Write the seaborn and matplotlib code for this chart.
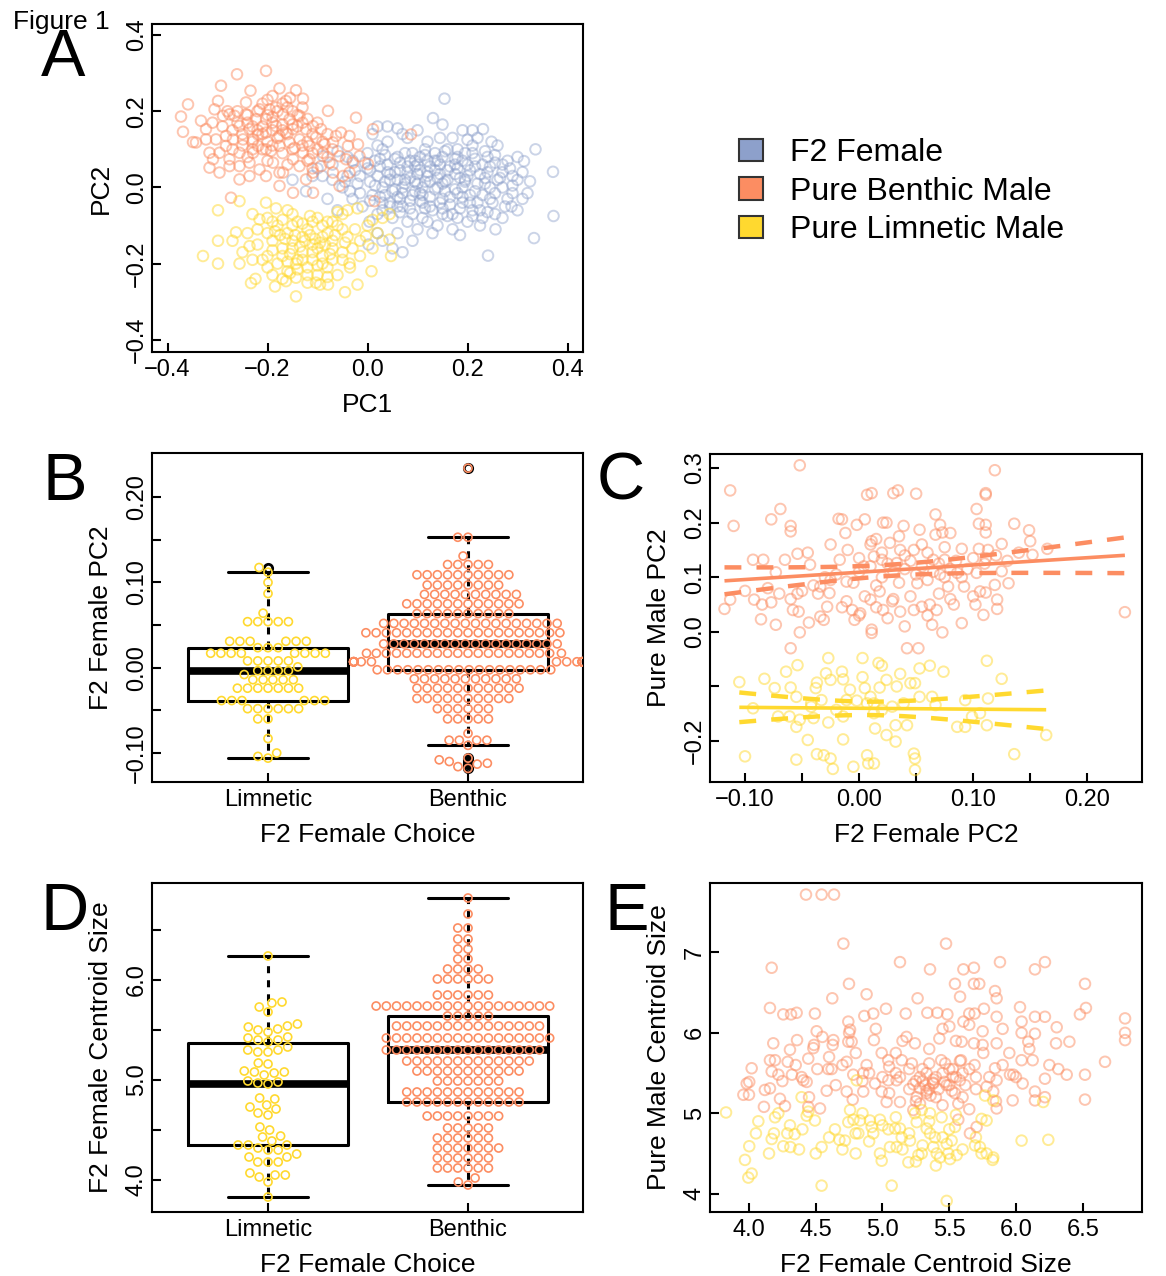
import numpy as np
import pandas as pd
import seaborn as sns
import matplotlib.pyplot as plt
from matplotlib.colors import to_rgba
from matplotlib.patches import Patch

# colours (Set2)
col_fem = '#8DA0CB'
col_ben = '#FC8D62'
col_lim = '#FFD92F'

legend_labels = ['F2 Female', 'Pure Benthic Male', 'Pure Limnetic Male']
choice_order = ['Limnetic', 'Benthic']

# ---------------- panel A : PCA of shape (PC1, PC2) ----------------
a_fem = [(0.154,0.233),(0.371,0.041),(0.372,-0.075),(0.333,-0.133),(0.241,-0.179),(0.336,0.100),
         (0.313,0.069),(0.310,0.040),(0.325,0.016),(0.320,-0.015),(0.288,-0.050),(0.255,-0.070),
         (0.256,-0.110),(0.070,-0.170),(0.050,-0.160),(0.131,0.182),(0.150,0.165),(0.231,0.153),
         (0.210,0.150),(0.190,0.150),(0.248,0.120),(0.060,0.155),(0.040,0.160),(-0.089,0.082),
         (-0.123,-0.010),(-0.080,-0.030),(-0.150,0.020),(-0.060,0.095),(0.004,-0.090),(0.020,-0.120),
         (0.002,-0.150),(0.030,-0.140),(0.00,0.05),(0.02,0.03),(0.04,0.06),(0.06,0.02),(0.08,0.04),
         (0.10,0.01),(0.12,0.03),(0.14,0.00),(0.16,0.02),(0.18,0.05),(0.20,0.03),(0.22,0.01),
         (0.24,0.04),(0.26,0.02),(0.01,-0.02),(0.03,-0.04),(0.05,-0.01),(0.07,-0.05),(0.09,-0.02),
         (0.11,-0.04),(0.13,-0.06),(0.15,-0.03),(0.17,-0.07),(0.19,-0.04),(0.21,-0.06),(0.23,-0.02),
         (0.25,-0.04),(0.27,0.00),(-0.02,0.01),(-0.04,0.03),(-0.03,-0.03),(-0.05,0.00),(-0.07,0.02),
         (0.00,0.09),(0.03,0.10),(0.06,0.08),(0.09,0.09),(0.12,0.07),(0.15,0.08),(0.18,0.10),
         (0.21,0.09),(0.24,0.08),(0.27,0.06),(0.29,0.03),(0.28,-0.03),(0.02,-0.07),(0.05,-0.08),
         (0.08,-0.09),(0.11,-0.08),(0.14,-0.10),(0.17,-0.11),(0.20,-0.09),(0.23,-0.08),(0.10,-0.11),
         (0.13,-0.12),(0.185,-0.125),(0.04,0.12),(0.08,0.13),(0.12,0.12),(0.17,0.13),(0.20,0.125),
         (0.22,0.13),(0.26,0.11),(0.03,0.00),(0.07,0.00),(0.11,0.00),(0.15,0.01),(0.19,0.00),
         (0.23,0.06),(0.055,0.04),(0.095,0.055),(0.135,0.045),(0.175,0.035),(0.085,-0.035),
         (0.125,-0.025),(0.165,-0.045),(0.205,-0.02),(0.045,-0.05),(-0.01,-0.05),(-0.03,0.07),
         (-0.06,-0.06),(-0.09,0.03),(0.30,0.08),(0.30,-0.06),(0.06,-0.12),(0.09,-0.14),(0.115,0.10),
         (0.095,0.015),(0.145,0.06),(0.065,0.065),(0.025,0.075),(0.10,0.035),(0.14,0.025),
         (0.18,-0.015),(0.06,-0.025),(0.16,0.10),(0.19,0.07),(0.22,-0.04),(0.245,0.00),(0.27,0.04),
         (0.215,0.055),(0.075,0.02),(0.105,-0.015),(0.125,0.015),(0.155,-0.01),(0.085,0.07),
         (0.045,0.02),(0.115,-0.055),(0.16,-0.075),(0.195,0.015),(0.235,0.025),(0.02,0.11),
         (-0.015,0.03),(0.035,-0.02),(0.065,-0.065),(0.105,0.08),(0.135,0.09),(0.175,0.075),
         (0.21,0.11),(0.255,0.065),(0.29,0.005),(0.27,-0.08),(0.225,-0.10),(0.145,0.13),(0.005,0.015),
         (-0.10,0.05),(-0.11,0.03),(-0.07,0.06),(-0.04,0.08),(0.01,0.14),(0.02,0.16),(0.07,0.14),(0.10,0.15),
         (0.005,0.045),(0.025,0.055),(0.045,0.035),(0.065,0.045),(0.085,0.025),(0.105,0.045),(0.125,0.055),
         (0.145,0.035),(0.165,0.055),(0.185,0.025),(0.205,0.045),(0.225,0.035),(0.245,0.055),(0.265,0.025),
         (0.015,0.005),(0.035,0.015),(0.055,-0.005),(0.075,0.010),(0.095,-0.010),(0.115,0.015),(0.135,-0.005),
         (0.155,0.015),(0.175,-0.005),(0.195,0.020),(0.215,-0.010),(0.235,0.010),(0.255,-0.015),
         (0.005,-0.035),(0.025,-0.025),(0.045,-0.040),(0.065,-0.030),(0.085,-0.055),(0.105,-0.035),
         (0.125,-0.050),(0.145,-0.040),(0.165,-0.025),(0.185,-0.055),(0.205,-0.040),(0.225,-0.060),
         (0.245,-0.030),(0.015,0.070),(0.035,0.085),(0.055,0.075),(0.075,0.090),(0.095,0.070),
         (0.115,0.085),(0.135,0.070),(0.155,0.095),(0.175,0.060),(0.195,0.090),(0.215,0.075),
         (0.235,0.095),(0.255,0.085),(0.03,-0.06),(0.06,-0.05),(0.09,-0.07),(0.12,-0.09),(0.15,-0.07),
         (0.18,-0.08),(0.21,-0.075),(0.24,-0.065),(-0.005,0.065),(-0.025,0.045),(-0.045,0.015),
         (-0.015,-0.015),(-0.035,-0.01),(0.28,0.07),(0.285,0.05),(0.30,0.02),(0.31,-0.03),(0.29,-0.015),
         (0.275,-0.05),(0.04,0.04),(0.08,0.055),(0.12,0.04),(0.16,0.045),(0.20,0.06),(0.07,-0.015),
         (0.11,-0.02),(0.15,-0.055),(0.19,-0.025),(0.10,0.06),(0.14,0.07),(0.18,0.08)]

a_ben = [(-0.373,0.186),(-0.359,0.218),(-0.369,0.146),(-0.349,0.119),(-0.333,0.175),(-0.323,0.153),
         (-0.316,0.091),(-0.309,0.074),(-0.316,0.052),(-0.296,0.039),(-0.306,0.205),(-0.299,0.227),
         (-0.293,0.267),(-0.261,0.297),(-0.203,0.306),(-0.234,0.254),(-0.176,0.260),(-0.143,0.255),
         (-0.129,0.233),(-0.163,0.227),(-0.183,0.210),(-0.216,0.205),(-0.243,0.223),(-0.276,0.192),
         (-0.266,0.188),(-0.289,0.188),(-0.256,0.161),(-0.236,0.153),(-0.219,0.139),(-0.203,0.179),
         (-0.183,0.161),(-0.156,0.179),(-0.136,0.188),(-0.123,0.153),(-0.109,0.161),(-0.093,0.153),
         (-0.079,0.201),(-0.023,0.183),(-0.053,0.144),(-0.036,0.135),(-0.039,0.109),(-0.019,0.113),
         (-0.056,0.082),(-0.076,0.065),(-0.093,0.056),(-0.036,0.039),(-0.069,0.039),(-0.049,0.030),
         (0.001,0.061),(0.011,0.153),(0.087,0.139),(0.014,-0.036),(-0.273,-0.027),(-0.276,0.056),
         (-0.256,0.021),(-0.236,0.030),(-0.216,0.047),(-0.189,0.065),(-0.169,0.039),(-0.149,0.074),
         (-0.129,0.091),(-0.116,0.109),(-0.256,0.091),(-0.229,0.091),(-0.203,0.100),(-0.176,0.109),
         (-0.156,0.118),(-0.136,0.126),(-0.283,0.109),(-0.303,0.126),(-0.323,0.126),(-0.343,0.118),
         (-0.283,0.135),(-0.269,0.126),(-0.249,0.126),(-0.223,0.179),(-0.196,0.205),(-0.169,0.192),
         (-0.149,0.153),(-0.163,0.144),(-0.176,0.135),(-0.203,0.144),(-0.229,0.126),(-0.243,0.192),
         (-0.276,0.074),(-0.296,0.091),(-0.136,0.056),(-0.116,0.074),(-0.109,0.039),(-0.089,0.091),
         (-0.069,0.118),(-0.063,0.135),(-0.043,0.074),(-0.056,0.004),(-0.109,-0.014),(-0.149,-0.014),
         (-0.176,0.004),(-0.203,0.030),(-0.176,0.039),(-0.123,0.021),(-0.236,0.065),(-0.256,0.056),
         (-0.219,0.109),(-0.193,0.096),(-0.146,0.104),(-0.103,0.131),(-0.086,0.113),(-0.029,0.065),
         (-0.016,0.082),(-0.21,0.16),(-0.19,0.17),(-0.17,0.165),(-0.20,0.12),(-0.18,0.13),(-0.16,0.14),
         (-0.14,0.16),(-0.22,0.15),(-0.24,0.17),(-0.19,0.185),(-0.15,0.20),(-0.17,0.22),(-0.13,0.21),
         (-0.20,0.23),(-0.12,0.12),(-0.10,0.10),(-0.08,0.08),(-0.11,0.05),(-0.26,0.20),(-0.23,0.10),
         (-0.27,0.15),(-0.25,0.14),(-0.23,0.16),(-0.21,0.14),(-0.19,0.15),(-0.17,0.15),(-0.15,0.165),
         (-0.13,0.17),(-0.11,0.14),(-0.26,0.17),(-0.24,0.19),(-0.22,0.20),(-0.20,0.19),(-0.18,0.20),
         (-0.16,0.21),(-0.14,0.19),(-0.12,0.18),(-0.25,0.11),(-0.23,0.12),(-0.21,0.10),(-0.19,0.11),
         (-0.17,0.09),(-0.15,0.10),(-0.13,0.11),(-0.11,0.09),(-0.09,0.12),(-0.27,0.10),(-0.29,0.16),
         (-0.31,0.17),(-0.21,0.22),(-0.19,0.24),(-0.155,0.235),(-0.24,0.08),(-0.20,0.07),(-0.16,0.06),
         (-0.12,0.07),(-0.08,0.14),(-0.07,0.10),(-0.10,0.17),(-0.28,0.20)]

a_lim = [(-0.329,-0.180),(-0.299,-0.060),(-0.299,-0.140),(-0.299,-0.200),(-0.256,-0.036),(-0.256,-0.200),
         (-0.263,-0.118),(-0.236,-0.154),(-0.233,-0.251),(-0.224,-0.240),(-0.200,-0.180),(-0.216,-0.084),
         (-0.203,-0.040),(-0.183,-0.055),(-0.160,-0.060),(-0.143,-0.200),(-0.143,-0.237),(-0.163,-0.246),
         (-0.143,-0.286),(-0.103,-0.250),(-0.079,-0.255),(-0.045,-0.275),(-0.020,-0.255),(0.008,-0.220),
         (-0.036,-0.200),(-0.003,-0.128),(0.010,-0.160),(0.047,-0.180),(0.044,-0.137),(0.044,-0.070),
         (-0.020,-0.055),(-0.040,-0.060),(-0.080,-0.090),(-0.20,-0.08),(-0.18,-0.10),(-0.16,-0.12),
         (-0.14,-0.09),(-0.12,-0.11),(-0.10,-0.08),(-0.08,-0.12),(-0.06,-0.10),(-0.04,-0.13),
         (-0.19,-0.14),(-0.17,-0.16),(-0.15,-0.14),(-0.13,-0.17),(-0.11,-0.15),(-0.09,-0.18),
         (-0.07,-0.16),(-0.05,-0.19),(-0.03,-0.16),(-0.18,-0.20),(-0.16,-0.22),(-0.14,-0.19),
         (-0.12,-0.21),(-0.10,-0.23),(-0.08,-0.21),(-0.06,-0.23),(-0.20,-0.12),(-0.22,-0.15),
         (-0.21,-0.19),(-0.19,-0.23),(-0.13,-0.13),(-0.11,-0.19),(-0.07,-0.14),(-0.05,-0.07),
         (-0.15,-0.07),(-0.17,-0.24),(-0.12,-0.25),(-0.09,-0.13),(-0.10,-0.16),(-0.135,-0.155),
         (-0.115,-0.125),(-0.095,-0.145),(-0.075,-0.175),(-0.155,-0.175),(-0.175,-0.125),(-0.025,-0.11),
         (-0.015,-0.18),(0.00,-0.10),(0.02,-0.12),(0.03,-0.08),(-0.24,-0.12),(-0.25,-0.17),
         (-0.23,-0.07),(-0.27,-0.14),(-0.19,-0.09),(-0.17,-0.085),(-0.15,-0.10),(-0.13,-0.095),
         (-0.11,-0.09),(-0.09,-0.10),(-0.07,-0.09),(-0.05,-0.11),(-0.185,-0.115),(-0.165,-0.135),
         (-0.145,-0.125),(-0.125,-0.14),(-0.105,-0.135),(-0.085,-0.15),(-0.065,-0.125),(-0.045,-0.145),
         (-0.19,-0.165),(-0.17,-0.18),(-0.15,-0.16),(-0.13,-0.19),(-0.11,-0.17),(-0.09,-0.20),
         (-0.07,-0.19),(-0.05,-0.17),(-0.16,-0.195),(-0.14,-0.215),(-0.12,-0.23),(-0.10,-0.205),
         (-0.08,-0.235),(-0.20,-0.21),(-0.22,-0.11),(-0.23,-0.19),(-0.035,-0.21),(-0.015,-0.14),
         (0.01,-0.085),(-0.06,-0.065),(-0.115,-0.075),(-0.155,-0.225),(-0.095,-0.255),(-0.185,-0.26)]

a_ticks = [-0.4, -0.2, 0.0, 0.2, 0.4]
a_ticklabels = ['\u22120.4', '\u22120.2', '0.0', '0.2', '0.4']

# ---------------- panel B : female PC2 by choice ----------------
b_lim = [0.1175, 0.112, 0.100, 0.087, 0.064,
         0.054, 0.054, 0.054, 0.054, 0.054,
         0.031, 0.031, 0.031, 0.031, 0.031, 0.031,
         0.0235, 0.0235, 0.0235,
         0.017, 0.017, 0.017, 0.017, 0.017, 0.017, 0.017, 0.017,
         0.008, 0.008, 0.008, 0.008, 0.008,
         0.001,
         -0.0035, -0.0035, -0.0035, -0.0035,
         -0.008,
         -0.014, -0.014, -0.014, -0.014, -0.014,
         -0.024, -0.024, -0.024, -0.024, -0.024, -0.024, -0.024,
         -0.0385, -0.0385, -0.0385, -0.0385, -0.0385, -0.0385,
         -0.048, -0.048, -0.048, -0.048, -0.048, -0.048,
         -0.060, -0.060,
         -0.083, -0.100, -0.104, -0.106]

b_ben = [0.234,
         0.153, 0.153,
         0.131,
         0.121, 0.121, 0.121, 0.121, 0.121,
         0.109, 0.109, 0.109, 0.109, 0.109, 0.109, 0.109, 0.109, 0.109, 0.109,
         0.097, 0.097, 0.097, 0.097, 0.097, 0.097, 0.097, 0.097,
         0.086, 0.086, 0.086, 0.086, 0.086, 0.086, 0.086, 0.086, 0.086, 0.086,
         0.075, 0.075, 0.075, 0.075, 0.075, 0.075, 0.075, 0.075, 0.075, 0.075, 0.075, 0.075,
         0.0635, 0.0635, 0.0635, 0.0635, 0.0635, 0.0635, 0.0635, 0.0635, 0.0635, 0.0635,
         0.052, 0.052, 0.052, 0.052, 0.052, 0.052, 0.052, 0.052, 0.052,
         0.052, 0.052, 0.052, 0.052, 0.052, 0.052, 0.052, 0.052, 0.052,
         0.041, 0.041, 0.041, 0.041, 0.041, 0.041, 0.041, 0.041, 0.041, 0.041,
         0.041, 0.041, 0.041, 0.041, 0.041, 0.041, 0.041, 0.041, 0.041, 0.041,
         0.028, 0.028, 0.028, 0.028, 0.028, 0.028, 0.028, 0.028, 0.028,
         0.028, 0.028, 0.028, 0.028, 0.028, 0.028, 0.028, 0.028, 0.028,
         0.017, 0.017, 0.017, 0.017, 0.017, 0.017, 0.017, 0.017, 0.017, 0.017,
         0.017, 0.017, 0.017, 0.017, 0.017, 0.017, 0.017, 0.017, 0.017, 0.017,
         0.007, 0.007, 0.007, 0.007, 0.007, 0.007, 0.007, 0.007, 0.007, 0.007,
         0.007, 0.007, 0.007, 0.007, 0.007, 0.007, 0.007, 0.007, 0.007, 0.007,
         -0.0024, -0.0024, -0.0024, -0.0024, -0.0024, -0.0024, -0.0024, -0.0024, -0.0024,
         -0.0024, -0.0024, -0.0024, -0.0024, -0.0024, -0.0024, -0.0024, -0.0024, -0.0024,
         -0.013, -0.013, -0.013, -0.013, -0.013, -0.013, -0.013, -0.013, -0.013, -0.013, -0.013,
         -0.024, -0.024, -0.024, -0.024, -0.024, -0.024, -0.024, -0.024, -0.024, -0.024, -0.024,
         -0.036, -0.036, -0.036, -0.036, -0.036, -0.036, -0.036, -0.036, -0.036, -0.036,
         -0.048, -0.048, -0.048, -0.048, -0.048, -0.048,
         -0.060, -0.060, -0.060, -0.060, -0.060,
         -0.077,
         -0.085, -0.085, -0.085, -0.085,
         -0.091,
         -0.106, -0.108, -0.110, -0.112, -0.113, -0.116, -0.118]

b_yticks = [-0.10, -0.05, 0.00, 0.05, 0.10, 0.15, 0.20]
b_yticklabels = ['\u22120.10', '', '0.00', '', '0.10', '', '0.20']

# ---------------- panel C : female PC2 vs male PC2 ----------------
c_ben = [(-0.113,0.259),(-0.110,0.194),(-0.118,0.042),(-0.113,0.059),(-0.093,0.132),(-0.084,0.132),
         (-0.092,0.059),(-0.085,0.050),(-0.077,0.054),(-0.086,0.023),(-0.073,0.013),(-0.073,0.109),
         (-0.077,0.206),(-0.069,0.225),(-0.052,0.305),(-0.060,0.194),(-0.060,0.184),(-0.065,0.132),
         (-0.054,0.143),(-0.054,0.070),(-0.058,0.040),(-0.053,0.037),(-0.052,-0.001),(-0.060,-0.030),
         (-0.044,0.017),(-0.043,0.123),(-0.036,0.070),(-0.034,0.028),(-0.031,0.022),(-0.028,0.046),
         (-0.026,0.071),(-0.034,0.083),(-0.025,0.095),(-0.018,0.207),(-0.015,0.206),(-0.012,0.181),
         (-0.017,0.132),(-0.011,0.092),(-0.011,0.056),(-0.006,0.040),(-0.004,0.022),(0.001,0.034),
         (-0.002,0.196),(0.005,0.206),(0.010,0.160),(0.011,0.166),(0.007,0.251),(0.011,0.254),
         (0.013,0.138),(0.004,0.120),(0.010,0.059),(0.011,0.004),(0.011,-0.002),(0.021,0.200),
         (0.024,0.200),(0.020,0.132),(0.018,0.074),(0.021,0.040),(0.027,0.163),(0.030,0.254),
         (0.034,0.259),(0.039,0.194),(0.036,0.150),(0.033,0.126),(0.036,0.037),(0.029,0.056),
         (0.042,-0.030),(0.052,-0.030),(0.050,0.253),(0.053,0.187),(0.048,0.150),(0.051,0.089),
         (0.048,0.040),(0.055,0.046),(0.062,0.050),(0.064,0.013),(0.068,0.040),(0.067,0.215),
         (0.071,0.196),(0.067,0.178),(0.073,0.182),(0.080,0.181),(0.065,0.132),(0.075,0.132),
         (0.071,0.105),(0.078,0.083),(0.073,-0.001),(0.083,0.050),(0.090,0.152),(0.090,0.016),
         (0.086,0.108),(0.092,0.083),(0.103,0.225),(0.105,0.198),(0.105,0.152),(0.111,0.254),
         (0.111,0.251),(0.111,0.196),(0.111,0.182),(0.113,0.150),(0.111,0.135),(0.103,0.108),
         (0.106,0.074),(0.111,0.072),(0.109,0.031),(0.102,0.050),(0.119,0.296),(0.125,0.161),
         (0.125,0.111),(0.119,0.086),(0.121,0.059),(0.121,0.042),(0.131,0.089),(0.136,0.198),
         (0.149,0.186),(0.150,0.166),(0.152,0.141),(0.165,0.152),(0.233,0.036),
         (0.000,0.110),(0.010,0.120),(0.020,0.100),(0.025,0.125),(0.030,0.110),(0.035,0.090),
         (0.040,0.115),(0.045,0.130),(0.050,0.105),(0.055,0.120),(0.060,0.095),(0.065,0.110),
         (0.070,0.125),(0.075,0.100),(0.080,0.115),(0.085,0.130),(0.090,0.100),(0.095,0.115),
         (-0.005,0.090),(0.015,0.085),(-0.020,0.105),(-0.030,0.100),(-0.040,0.085),(-0.050,0.075),
         (0.100,0.135),(0.110,0.125),(0.120,0.140),(0.130,0.130),(0.140,0.145),(0.020,0.145),
         (0.040,0.140),(0.060,0.145),(0.000,0.135),(-0.010,0.150),(0.030,0.060),(0.005,0.065),
         (-0.015,0.045),(0.025,0.025),(0.045,0.065),(0.070,0.070),(-0.070,0.070),(-0.080,0.080),
         (-0.100,0.075),(-0.060,0.060),(0.015,0.170),(0.035,0.175),(0.055,0.160),(0.075,0.155),
         (-0.025,0.160),(-0.045,0.145),(0.000,0.030),(0.040,0.010),(0.060,0.030),(0.080,0.060),
         (0.100,0.065),(0.015,0.045)]

c_lim = [(-0.105,-0.092),(-0.100,-0.228),(-0.083,-0.086),(-0.074,-0.103),(-0.093,-0.140),(-0.064,-0.073),
         (-0.060,-0.102),(-0.054,-0.061),(-0.055,-0.119),(-0.061,-0.155),(-0.055,-0.174),(-0.052,-0.161),
         (-0.055,-0.234),(-0.045,-0.198),(-0.042,-0.137),(-0.038,-0.103),(-0.037,-0.093),(-0.029,-0.076),
         (-0.027,-0.048),(-0.025,-0.088),(-0.033,-0.125),(-0.040,-0.158),(-0.027,-0.166),(-0.037,-0.224),
         (-0.031,-0.226),(-0.025,-0.232),(-0.023,-0.251),(-0.015,-0.073),(-0.014,-0.087),(-0.014,-0.197),
         (-0.011,-0.125),(-0.014,-0.155),(-0.005,-0.247),(-0.002,-0.126),(0.003,-0.048),(0.003,-0.083),
         (0.005,-0.103),(0.007,-0.226),(0.008,-0.241),(0.013,-0.241),(0.010,-0.119),(0.013,-0.149),
         (0.014,-0.177),(0.017,-0.057),(0.020,-0.062),(0.018,-0.102),(0.024,-0.088),(0.024,-0.189),
         (0.032,-0.171),(0.032,-0.201),(0.036,-0.077),(0.033,-0.100),(0.042,-0.171),(0.045,-0.094),
         (0.049,-0.094),(0.048,-0.223),(0.049,-0.232),(0.049,-0.253),(0.053,-0.067),(0.053,-0.119),
         (0.062,-0.062),(0.064,-0.119),(0.067,-0.134),(0.074,-0.073),(0.086,-0.174),(0.093,-0.174),
         (0.093,-0.125),(0.099,-0.155),(0.106,-0.149),(0.112,-0.171),(0.112,-0.053),(0.113,-0.122),
         (0.125,-0.086),(0.136,-0.224),(0.164,-0.189),(-0.071,-0.155),(-0.008,-0.106),(0.007,-0.131),
         (0.029,-0.137),(0.039,-0.131),(0.013,-0.131),(0.020,-0.143),(-0.020,-0.143),(-0.042,-0.131)]

c_xticks = [-0.10, -0.05, 0.00, 0.05, 0.10, 0.15, 0.20]
c_xticklabels = ['\u22120.10', '', '0.00', '', '0.10', '', '0.20']
c_yticks = [-0.2, -0.1, 0.0, 0.1, 0.2, 0.3]
c_yticklabels = ['\u22120.2', '', '0.0', '0.1', '0.2', '0.3']

# ---------------- panel D : female centroid size by choice ----------------
d_lim = [6.24, 5.78, 5.77, 5.68, 5.73, 5.51, 5.53, 5.48, 5.56, 5.50, 5.54,
         5.38, 5.43, 5.40, 5.42, 5.40, 5.33, 5.30, 5.28, 5.30, 5.28,
         5.17, 5.16, 5.09, 5.05, 5.07, 5.08, 5.08,
         4.97, 4.96, 4.98, 4.99,
         4.82, 4.81, 4.75, 4.73, 4.71, 4.67, 4.65,
         4.53, 4.50, 4.43, 4.44,
         4.39, 4.35, 4.35, 4.35, 4.23, 4.30, 4.30, 4.32, 4.23, 4.26,
         4.18, 4.18, 4.18, 4.07, 4.03, 3.98, 4.05, 4.05, 3.83]

d_ben = [6.82, 6.66, 6.52, 6.52, 6.41, 6.41, 6.31, 6.31, 6.21, 6.21,
         6.11, 6.11, 6.11, 6.11, 6.01, 6.01, 6.01, 6.01, 6.01, 6.01,
         5.85, 5.85, 5.85, 5.85, 5.85, 5.85,
         5.74, 5.74, 5.74, 5.74, 5.74, 5.74, 5.74, 5.74, 5.74,
         5.74, 5.74, 5.74, 5.74, 5.74, 5.74, 5.74, 5.74, 5.74,
         5.64, 5.64, 5.64, 5.64, 5.64,
         5.54, 5.54, 5.54, 5.54, 5.54, 5.54, 5.54, 5.54,
         5.54, 5.54, 5.54, 5.54, 5.54, 5.54, 5.54,
         5.42, 5.42, 5.42, 5.42, 5.42, 5.42, 5.42, 5.42, 5.42,
         5.42, 5.42, 5.42, 5.42, 5.42, 5.42, 5.42, 5.42,
         5.30, 5.30, 5.30, 5.30, 5.30, 5.30, 5.30, 5.30,
         5.30, 5.30, 5.30, 5.30, 5.30, 5.30, 5.30, 5.30,
         5.19, 5.19, 5.19, 5.19, 5.19, 5.19, 5.19, 5.19, 5.19, 5.19, 5.19, 5.19, 5.19,
         5.09, 5.09, 5.09, 5.09, 5.09, 5.09, 5.09, 5.09, 5.09, 5.09, 5.09,
         4.99, 4.99, 4.99, 4.99, 4.99, 4.99, 4.99,
         4.88, 4.88, 4.88, 4.88, 4.88, 4.88, 4.88, 4.88, 4.88, 4.88, 4.88, 4.88,
         4.78, 4.78, 4.78, 4.78, 4.78, 4.78, 4.78, 4.78, 4.78, 4.78, 4.78, 4.78,
         4.64, 4.64, 4.64, 4.64, 4.64, 4.64, 4.64, 4.64,
         4.52, 4.52, 4.52, 4.52, 4.52,
         4.42, 4.42, 4.42, 4.42, 4.42, 4.42,
         4.32, 4.32, 4.32, 4.32, 4.32, 4.32, 4.32,
         4.22, 4.22, 4.22, 4.22, 4.22, 4.22,
         4.12, 4.12, 4.12, 4.12, 4.12, 4.12,
         4.02, 3.98, 3.95]

d_yticks = [4.0, 4.5, 5.0, 5.5, 6.0, 6.5]
d_yticklabels = ['4.0', '', '5.0', '', '6.0', '']

# ---------------- panel E : female vs male centroid size ----------------
e_ben = [(4.427,7.72),(4.544,7.72),(4.637,7.72),(4.707,7.11),(5.476,7.11),(4.170,6.81),(5.131,6.88),
         (5.356,6.79),(5.606,6.79),(5.685,6.81),(5.880,6.88),(6.142,6.79),(6.217,6.88),(4.749,6.61),
         (4.881,6.48),(4.624,6.43),(5.263,6.43),(5.543,6.61),(5.581,6.45),(5.685,6.61),(5.725,6.61),
         (5.843,6.52),(5.855,6.43),(6.517,6.61),(4.157,6.31),(4.257,6.23),(4.315,6.23),(4.357,6.25),
         (4.494,6.24),(4.744,6.14),(4.757,6.04),(4.864,6.21),(4.931,6.24),(5.026,6.30),(5.174,6.24),
         (5.336,6.25),(5.411,6.25),(5.486,6.23),(5.501,6.08),(5.606,6.14),(5.650,6.24),(5.690,6.24),
         (5.760,6.30),(5.855,6.20),(6.030,6.32),(6.042,6.14),(6.142,6.20),(6.217,6.20),(6.305,6.07),
         (6.479,6.23),(6.524,6.31),(6.817,6.18),(6.817,6.00),(6.817,5.91),(6.667,5.64),(6.517,5.48),
         (6.517,5.17),(6.400,5.89),(6.317,5.55),(6.380,5.48),(6.300,5.87),(6.217,5.43),(6.217,5.20),
         (6.142,5.99),(6.042,6.00),(6.092,5.89),(6.125,5.66),(6.042,5.66),(6.050,5.37),(6.142,5.27),
         (6.142,5.16),(5.975,5.16),(5.955,5.48),(5.855,5.87),(5.843,5.56),(5.855,5.41),(5.830,5.27),
         (5.855,5.06),(5.750,6.02),(5.685,5.87),(5.690,5.60),(5.755,5.75),(5.593,5.89),(5.588,5.66),
         (5.528,5.55),(5.426,5.93),(5.440,5.66),(5.465,5.39),(5.528,5.45),(5.543,5.25),(5.568,5.12),
         (5.568,4.92),(5.243,5.87),(5.180,5.95),(5.144,5.66),(5.043,5.66),(4.994,5.75),(4.936,5.91),
         (4.881,5.60),(4.856,5.50),(4.781,5.48),(4.732,5.64),(4.744,5.89),(4.769,5.89),(4.732,5.27),
         (4.777,5.17),(4.856,5.27),(4.944,5.37),(5.044,5.41),(5.131,5.45),(5.106,5.41),(5.231,5.36),
         (5.281,5.31),(5.331,5.25),(5.381,5.37),(5.256,5.20),(5.281,5.12),(5.231,5.04),(5.131,5.14),
         (5.031,5.14),(4.994,5.27),(4.632,5.91),(4.627,5.85),(4.594,5.55),(4.619,5.55),(4.582,5.28),
         (4.512,5.55),(4.487,5.85),(4.507,6.02),(4.482,5.81),(4.444,5.68),(4.432,5.39),(4.394,5.45),
         (4.307,5.79),(4.290,5.64),(4.322,5.48),(4.360,5.91),(4.182,5.87),(4.195,5.66),(4.157,5.66),
         (4.220,5.48),(4.170,5.52),(4.157,5.31),(4.119,5.29),(4.020,5.56),(3.983,5.37),(4.002,5.39),
         (3.958,5.23),(4.000,5.23),(4.232,5.18),(4.270,5.09),(4.112,5.08),(4.407,5.41),(4.444,5.08),
         (4.532,5.06),(5.705,4.83),(5.655,4.75),(5.980,5.48),(5.780,5.33),(5.580,5.41),
         (5.30,5.40),(5.32,5.35),(5.35,5.30),(5.28,5.45),(5.38,5.38),(5.33,5.50),(5.40,5.45),
         (5.25,5.40),(5.36,5.22),(5.42,5.30),(5.45,5.50),(5.50,5.55),(5.20,5.55),(5.55,5.45),
         (5.60,5.50),(5.65,5.55),(5.70,5.45),(5.62,5.35),(5.47,5.62),(5.35,5.62),(5.22,5.62),
         (5.48,5.35),(5.52,5.28),(5.10,5.50),(5.05,5.58),(5.58,5.65),
         (4.60,5.70),(4.70,5.60),(4.80,5.75),(4.90,5.50),(5.00,5.45),(5.10,5.75),(5.20,5.30),
         (5.30,5.55),(5.40,5.20),(5.50,5.35),(5.60,5.20),(5.70,5.30),(5.80,5.45),(5.90,5.60),
         (6.00,5.45),(5.15,5.90),(5.35,5.80),(5.55,5.90),(5.75,5.85),(5.95,5.75),(4.65,5.35),
         (4.85,5.40),(5.05,5.25),(5.25,5.15),(5.45,5.10),(5.65,5.05),(5.85,5.15),(4.55,5.95),
         (4.75,6.00),(4.95,6.05),(5.45,6.05),(5.65,6.10),(5.90,6.05),(6.10,5.80),(6.25,5.60),
         (4.35,5.60),(4.25,5.40),(4.45,5.20),(5.38,5.42),(5.33,5.28)]

e_lim = [(3.828,5.01),(3.970,4.42),(3.995,4.20),(4.020,4.25),(4.002,4.59),(4.052,4.75),(4.070,4.90),
         (4.170,4.68),(4.187,4.75),(4.195,4.95),(4.220,5.00),(4.257,4.59),(4.287,4.75),(4.307,4.85),
         (4.342,4.74),(4.310,4.58),(4.375,4.55),(4.394,5.20),(4.432,4.97),(4.444,5.02),(4.494,4.91),
         (4.544,4.58),(4.544,4.10),(4.644,4.80),(4.677,4.67),(4.719,4.66),(4.757,5.04),(4.744,4.89),
         (4.782,4.92),(4.799,4.75),(4.799,4.50),(4.832,4.91),(4.807,5.41),(4.919,4.83),(4.931,4.75),
         (4.981,4.92),(4.981,4.50),(4.994,4.41),(5.044,4.80),(5.069,4.10),(5.056,4.58),(5.106,4.58),
         (5.131,4.81),(5.194,4.39),(5.206,4.66),(5.243,5.00),(5.269,4.48),(5.294,4.50),(5.294,5.04),
         (5.356,5.00),(5.356,4.75),(5.381,4.58),(5.406,4.50),(5.431,4.45),(5.481,4.62),(5.493,4.50),
         (5.506,4.43),(5.518,4.66),(5.556,4.48),(5.481,3.91),(5.543,4.83),(5.443,4.95),(5.693,4.60),
         (5.730,4.58),(5.742,4.50),(5.780,4.50),(5.830,4.45),(5.825,4.42),(5.780,4.91),(5.742,4.93),
         (5.768,5.22),(5.830,5.16),(6.042,4.66),(6.242,4.67),(6.204,5.14),(5.094,4.81),(5.144,4.70),
         (5.256,4.89),(5.331,4.81),(5.393,4.70),(4.819,4.75),(4.906,4.91),
         (4.40,4.80),(4.60,4.70),(4.90,4.65),(5.00,4.85),(5.20,4.75),(5.30,4.60),(5.45,4.70),
         (5.60,4.55),(5.50,4.80),(5.35,4.90),(4.70,4.55),(5.15,4.55),(5.40,4.35),(5.25,4.40),
         (4.50,4.50),(4.15,4.50),(5.70,4.70),(5.10,4.95),(4.85,5.00),(5.55,4.98)]

e_xticks = [4.0, 4.5, 5.0, 5.5, 6.0, 6.5]
e_xticklabels = ['4.0', '4.5', '5.0', '5.5', '6.0', '6.5']
e_yticks = [4, 5, 6, 7]
e_yticklabels = ['4', '5', '6', '7']

# ---------------------------------------------------------------
sns.set_theme(style='white')
plt.rcParams['font.family'] = ['Liberation Sans', 'DejaVu Sans']
plt.rcParams['axes.edgecolor'] = 'black'
plt.rcParams['axes.linewidth'] = 1.5
plt.rcParams['text.color'] = 'black'
plt.rcParams['axes.labelcolor'] = 'black'
plt.rcParams['xtick.color'] = 'black'
plt.rcParams['ytick.color'] = 'black'

fig = plt.figure(figsize=(11.66, 12.76), dpi=100)
W, H = 1166, 1276


def px_axes(left, top, right, bottom):
    return fig.add_axes([left / W, 1 - bottom / H, (right - left) / W, (bottom - top) / H])


def style_axes(ax, xlabel, ylabel):
    ax.tick_params(direction='in', length=6.5, width=1.5, labelsize=17,
                   colors='black', bottom=True, left=True)
    ax.tick_params(axis='x', pad=5)
    ax.tick_params(axis='y', pad=3, labelrotation=90)
    for lab in ax.get_yticklabels():
        lab.set_va('center')
    ax.set_xlabel(xlabel, fontsize=19, labelpad=9)
    ax.set_ylabel(ylabel, fontsize=19, labelpad=9)
    for sp in ax.spines.values():
        sp.set_visible(True)
        sp.set_linewidth(1.5)
        sp.set_color('black')


def hollow_scatter(ax, pts, color, alpha):
    pts = np.array(pts)
    sns.scatterplot(x=pts[:, 0], y=pts[:, 1], s=58, ax=ax, legend=False, color=color)
    coll = ax.collections[-1]
    coll.set_facecolor('none')
    coll.set_edgecolor(to_rgba(color, alpha))
    coll.set_linewidth(1.4)


def fit_lines(ax, pts, color):
    pts = np.array(pts)
    x, y = pts[:, 0], pts[:, 1]
    n = len(x)
    b1, b0 = np.polyfit(x, y, 1)
    grid = np.linspace(x.min(), x.max(), 80)
    resid = y - (b0 + b1 * x)
    s = np.sqrt(np.sum(resid ** 2) / (n - 2))
    sxx = np.sum((x - x.mean()) ** 2)
    se = s * np.sqrt(1 / n + (grid - x.mean()) ** 2 / sxx)
    fit = b0 + b1 * grid
    ax.plot(grid, fit, color=color, lw=2.6, solid_capstyle='butt')
    for sign in (-1, 1):
        ax.plot(grid, fit + sign * 1.97 * se, color=color, lw=3.2, ls=(0, (3.8, 3.4)))


def swarm_box(ax, lim_vals, ben_vals, col_lim, col_ben):
    # categories placed on a numeric axis so the swarm may spread wider than the box
    pos = {'Limnetic': 0.0, 'Benthic': 0.7}
    df = pd.DataFrame({
        'choice': ['Limnetic'] * len(lim_vals) + ['Benthic'] * len(ben_vals),
        'value': list(lim_vals) + list(ben_vals),
    })
    df['pos'] = df['choice'].map(pos)
    for name, col in (('Limnetic', col_lim), ('Benthic', col_ben)):
        sub = df[df['choice'] == name]
        sns.swarmplot(data=sub, x='pos', y='value', native_scale=True, orient='x',
                      color=col, size=5.8, ax=ax, warn_thresh=1)
        coll = ax.collections[-1]
        coll.set_facecolor('none')
        coll.set_edgecolor(col)
        coll.set_linewidth(1.2)
    sns.boxplot(data=df, x='pos', y='value', native_scale=True, orient='x', width=0.8,
                fill=False, color='black', saturation=1, linewidth=2.2, whis=1.5, ax=ax,
                boxprops=dict(color='black', linewidth=2.2),
                medianprops=dict(color='black', linewidth=5.5, solid_capstyle='butt'),
                whiskerprops=dict(color='black', linewidth=2.2, linestyle=(0, (2.3, 2.3))),
                capprops=dict(color='black', linewidth=2.2),
                flierprops=dict(marker='o', markersize=6, markeredgewidth=2,
                                markeredgecolor='black', markerfacecolor='none'))
    ax.set_xlim(-0.406, 1.1025)
    ax.set_xticks([pos[c] for c in choice_order], choice_order)


# ---- A ----
axA = px_axes(152, 24, 583, 352)
hollow_scatter(axA, a_fem, col_fem, 0.45)
hollow_scatter(axA, a_ben, col_ben, 0.5)
hollow_scatter(axA, a_lim, col_lim, 0.5)
axA.set_xlim(-0.431, 0.431)
axA.set_ylim(-0.432, 0.429)
axA.set_xticks(a_ticks, a_ticklabels)
axA.set_yticks(a_ticks, a_ticklabels)
style_axes(axA, 'PC1', 'PC2')

# ---- B ----
axB = px_axes(152, 453, 583, 782)
swarm_box(axB, b_lim, b_ben, col_lim, col_ben)
axB.set_ylim(-0.134, 0.2518)
axB.set_yticks(b_yticks, b_yticklabels)
style_axes(axB, 'F2 Female Choice', 'F2 Female PC2')

# ---- C ----
axC = px_axes(710, 454, 1142, 782)
hollow_scatter(axC, c_ben, col_ben, 0.5)
hollow_scatter(axC, c_lim, col_lim, 0.5)
fit_lines(axC, c_ben, col_ben)
fit_lines(axC, c_lim, col_lim)
axC.set_xlim(-0.1307, 0.248)
axC.set_ylim(-0.275, 0.3257)
axC.set_xticks(c_xticks, c_xticklabels)
axC.set_yticks(c_yticks, c_yticklabels)
style_axes(axC, 'F2 Female PC2', 'Pure Male PC2')

# ---- D ----
axD = px_axes(152, 883, 583, 1212)
swarm_box(axD, d_lim, d_ben, col_lim, col_ben)
axD.set_ylim(3.68, 6.97)
axD.set_yticks(d_yticks, d_yticklabels)
style_axes(axD, 'F2 Female Choice', 'F2 Female Centroid Size')

# ---- E ----
axE = px_axes(710, 883, 1142, 1212)
hollow_scatter(axE, e_ben, col_ben, 0.5)
hollow_scatter(axE, e_lim, col_lim, 0.5)
axE.set_xlim(3.708, 6.944)
axE.set_ylim(3.772, 7.864)
axE.set_xticks(e_xticks, e_xticklabels)
axE.set_yticks(e_yticks, e_yticklabels)
style_axes(axE, 'F2 Female Centroid Size', 'Pure Male Centroid Size')

# ---- legend ----
handles = [Patch(facecolor=c, edgecolor='#333333', linewidth=1.5, label=l)
           for c, l in zip([col_fem, col_ben, col_lim], legend_labels)]
fig.legend(handles=handles, loc='upper left', bbox_to_anchor=(739 / W, 1 - 138 / H),
           frameon=False, fontsize=23, handlelength=0.75, handleheight=0.7,
           handletextpad=0.85, labelspacing=0.27, borderpad=0, borderaxespad=0)

# ---- panel letters and figure title ----
fig.text(13 / W, 1 - 22 / H, 'Figure 1', fontsize=19, va='center', ha='left')
for letter, x, y in (('A', 41, 76), ('B', 43, 500), ('C', 597, 500), ('D', 41, 930), ('E', 604, 930)):
    fig.text(x / W, 1 - y / H, letter, fontsize=48, va='baseline', ha='left')

fig.savefig('out.png', dpi=100)
